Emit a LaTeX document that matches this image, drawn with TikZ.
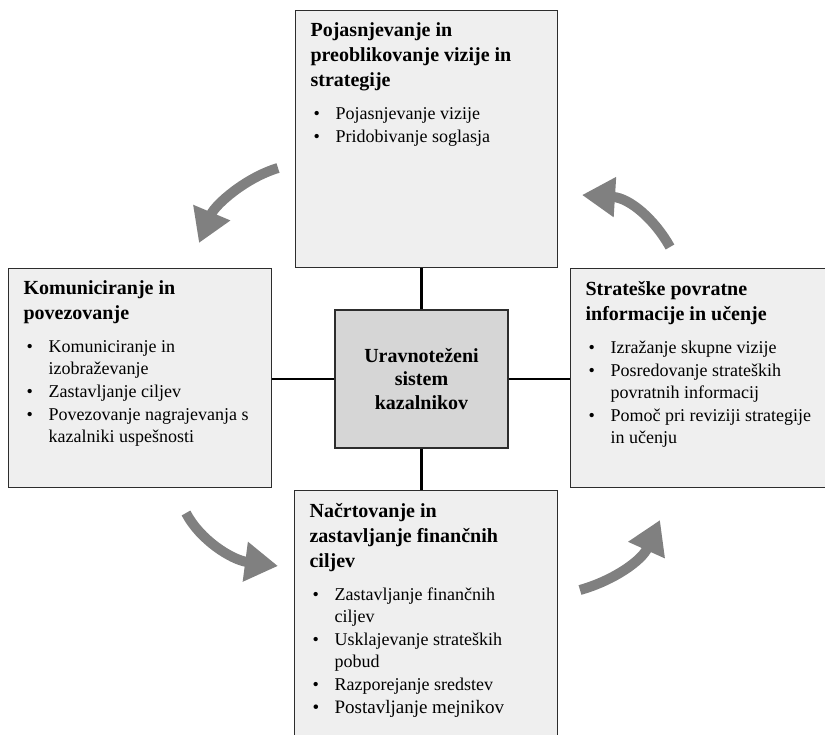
\documentclass[tikz,border=0pt]{standalone}
\usepackage{fontspec}
\setmainfont{Liberation Serif}
\usetikzlibrary{arrows.meta,calc,positioning}
\definecolor{pcolor}{RGB}{239,239,239}
\definecolor{hcolor}{RGB}{214,214,214}
\definecolor{acolor}{RGB}{128,128,128}
\definecolor{ecolor}{RGB}{45,45,45}
\newcommand{\ptitle}[1]{{\fontsize{20}{25}\selectfont\bfseries #1\par}\vspace{10pt}}
\newcommand{\pitem}[1]{\hangindent=25pt\hangafter=1\noindent\hbox to 25pt{\hspace{3pt}\textbullet\hfil}#1\par}
\newcommand{\pbox}[3]{\parbox[t][#2][t]{#1}{\raggedright\fontsize{18}{22}\selectfont\parskip=1pt #3}}

\begin{document}
\begin{tikzpicture}[x=1pt,y=-1pt,
  panel/.style={draw=ecolor,line width=1.2pt,fill=pcolor,anchor=north west,inner xsep=15pt,inner ysep=12.5pt},
  hub/.style={draw=ecolor,line width=1.2pt,fill=hcolor,minimum width=173pt,minimum height=138pt,
    align=center,font=\fontsize{20}{23.5}\selectfont\bfseries},
  link/.style={line width=2.2pt},
  turn/.style={acolor,line width=10pt,-{Triangle[width=38pt,length=33pt]}}]
  \useasboundingbox (0,0) rectangle (825,734);

  \node[panel] (vision) at (295,10) {\pbox{232pt}{232pt}{%
    \ptitle{Pojasnjevanje in\newline preoblikovanje vizije in\newline strategije}
    \pitem{Pojasnjevanje vizije}
    \pitem{Pridobivanje soglasja}}};
  \node[panel] (comm) at (8,268) {\pbox{233pt}{194pt}{%
    \ptitle{Komuniciranje in\newline povezovanje}
    \pitem{Komuniciranje in\newline izobraževanje}
    \pitem{Zastavljanje ciljev}
    \pitem{Povezovanje nagrajevanja s\newline kazalniki uspešnosti}}};
  \node[panel] (learn) at (570,268) {\pbox{240pt}{194pt}{%
    \ptitle{Strateške povratne\newline informacije in učenje}
    \pitem{Izražanje skupne vizije}
    \pitem{Posredovanje strateških\newline povratnih informacij}
    \pitem{Pomoč pri reviziji strategije\newline in učenju}}};
  \node[panel] (plan) at (294,490) {\pbox{233pt}{235pt}{%
    \ptitle{Načrtovanje in\newline zastavljanje finančnih\newline ciljev}
    \pitem{Zastavljanje finančnih\newline ciljev}
    \pitem{Usklajevanje strateških\newline pobud}
    \pitem{Razporejanje sredstev}
    {\fontsize{19}{22}\selectfont\pitem{Postavljanje mejnikov}}}};
  \node[hub] (core) at (421.5,379) {Uravnoteženi\\sistem\\kazalnikov};

  \draw[link] (core.north) -- (core.north |- vision.south);
  \draw[link] (core.south) -- (core.south |- plan.north);
  \draw[link] (core.west) -- (core.west -| comm.east);
  \draw[link] (core.east) -- (core.east -| learn.west);

  % cycle arrows
  \draw[turn] (278,168) .. controls (245,178) and (215,205) .. (199,243);
  \draw[turn] (670,247) .. controls (655,220) and (630,198) .. (582,195);
  \draw[turn] (186,513) .. controls (200,540) and (232,560) .. (278,566);
  \draw[turn] (580,590) .. controls (615,580) and (642,560) .. (660,520);
\end{tikzpicture}
\end{document}
